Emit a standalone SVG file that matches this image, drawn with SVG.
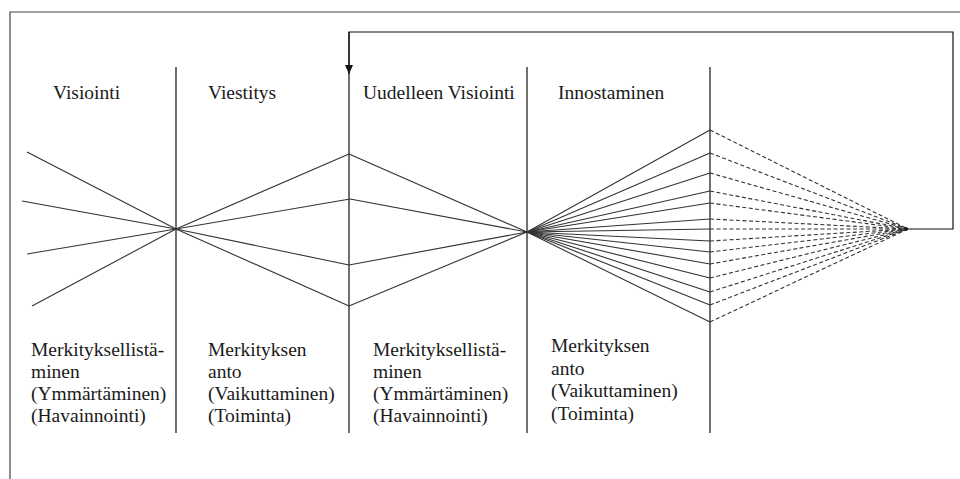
<svg xmlns="http://www.w3.org/2000/svg" width="960" height="479" viewBox="0 0 960 479">
<style>
text{font-family:'Liberation Serif','DejaVu Serif','Times New Roman',serif;font-size:19.5px;fill:#1a1a1a}
.frame{fill:none;stroke:#444;stroke-width:1.2}
.div{fill:none;stroke:#111;stroke-width:1.2}
.ln{fill:none;stroke:#333;stroke-width:1.1}
.dash{fill:none;stroke:#333;stroke-width:1.1;stroke-dasharray:4 2.5}
</style>
<defs>
<marker id="arr" viewBox="0 0 9 8" refX="9" refY="4" markerWidth="9" markerHeight="8" markerUnits="userSpaceOnUse" orient="auto">
<path d="M0,0 L9,4 L0,8 Z" fill="#111"/>
</marker>
</defs>
<rect width="960" height="479" fill="#fff"/>
<path class="frame" d="M960,12 H10 V479"/>
<g id="dividers">
<line class="div" x1="176" y1="67" x2="176" y2="433"/>
<line class="div" x1="349" y1="32" x2="349" y2="433"/>
<line class="div" x1="527" y1="67" x2="527" y2="433"/>
<line class="div" x1="710" y1="67" x2="710" y2="433"/>
</g>
<g id="connectors">
<g id="visiointi-lines">
<line class="ln" x1="27" y1="152" x2="176" y2="229"/>
<line class="ln" x1="22" y1="201" x2="176" y2="229"/>
<line class="ln" x1="27" y1="254" x2="176" y2="229"/>
<line class="ln" x1="32" y1="306" x2="176" y2="229"/>
</g>
<g id="viestitys-lines">
<line class="ln" x1="176" y1="229" x2="349" y2="154"/>
<line class="ln" x1="176" y1="229" x2="350" y2="199"/>
<line class="ln" x1="176" y1="229" x2="349" y2="265"/>
<line class="ln" x1="176" y1="229" x2="349" y2="306"/>
</g>
<g id="uudelleen-lines">
<line class="ln" x1="349" y1="154" x2="527" y2="232"/>
<line class="ln" x1="350" y1="199" x2="527" y2="232"/>
<line class="ln" x1="349" y1="265" x2="527" y2="232"/>
<line class="ln" x1="349" y1="306" x2="527" y2="232"/>
</g>
<g id="innostaminen-lines">
<line class="ln" x1="527" y1="232" x2="710" y2="130"/>
<line class="ln" x1="527" y1="232" x2="710" y2="153"/>
<line class="ln" x1="527" y1="232" x2="710" y2="173"/>
<line class="ln" x1="527" y1="232" x2="710" y2="191"/>
<line class="ln" x1="527" y1="232" x2="710" y2="203"/>
<line class="ln" x1="527" y1="232" x2="710" y2="219"/>
<line class="ln" x1="527" y1="232" x2="710" y2="229"/>
<line class="ln" x1="527" y1="232" x2="710" y2="241"/>
<line class="ln" x1="527" y1="232" x2="710" y2="252"/>
<line class="ln" x1="527" y1="232" x2="710" y2="264"/>
<line class="ln" x1="527" y1="232" x2="710" y2="278"/>
<line class="ln" x1="527" y1="232" x2="710" y2="292"/>
<line class="ln" x1="527" y1="232" x2="710" y2="305"/>
<line class="ln" x1="527" y1="232" x2="710" y2="322"/>
</g>
<g id="future-lines">
<line class="dash" x1="710" y1="130" x2="908" y2="229"/>
<line class="dash" x1="710" y1="153" x2="908" y2="229"/>
<line class="dash" x1="710" y1="173" x2="908" y2="229"/>
<line class="dash" x1="710" y1="191" x2="908" y2="229"/>
<line class="dash" x1="710" y1="203" x2="908" y2="229"/>
<line class="dash" x1="710" y1="219" x2="908" y2="229"/>
<line class="dash" x1="710" y1="229" x2="908" y2="229"/>
<line class="dash" x1="710" y1="241" x2="908" y2="229"/>
<line class="dash" x1="710" y1="252" x2="908" y2="229"/>
<line class="dash" x1="710" y1="264" x2="908" y2="229"/>
<line class="dash" x1="710" y1="278" x2="908" y2="229"/>
<line class="dash" x1="710" y1="292" x2="908" y2="229"/>
<line class="dash" x1="710" y1="305" x2="908" y2="229"/>
<line class="dash" x1="710" y1="322" x2="908" y2="229"/>
<circle cx="906" cy="229" r="2" fill="#222"/>
</g>
<path id="feedback" class="div" d="M906,229 H953 V32 H349 V74" marker-end="url(#arr)"/>
</g>
<g id="phase-visiointi">
<text x="53" y="99">Visiointi</text>
<text x="31" y="356">Merkityksellistä-</text>
<text x="31" y="378">minen</text>
<text x="31" y="400">(Ymmärtäminen)</text>
<text x="31" y="422">(Havainnointi)</text>
</g>
<g id="phase-viestitys">
<text x="208" y="99">Viestitys</text>
<text x="208" y="356">Merkityksen</text>
<text x="208" y="378">anto</text>
<text x="208" y="400">(Vaikuttaminen)</text>
<text x="208" y="422">(Toiminta)</text>
</g>
<g id="phase-uudelleen">
<text x="363" y="99">Uudelleen Visiointi</text>
<text x="373" y="356">Merkityksellistä-</text>
<text x="373" y="378">minen</text>
<text x="373" y="400">(Ymmärtäminen)</text>
<text x="373" y="422">(Havainnointi)</text>
</g>
<g id="phase-innostaminen">
<text x="558" y="99">Innostaminen</text>
<text x="551" y="352">Merkityksen</text>
<text x="551" y="374.5">anto</text>
<text x="551" y="397">(Vaikuttaminen)</text>
<text x="551" y="419.5">(Toiminta)</text>
</g>
</svg>
